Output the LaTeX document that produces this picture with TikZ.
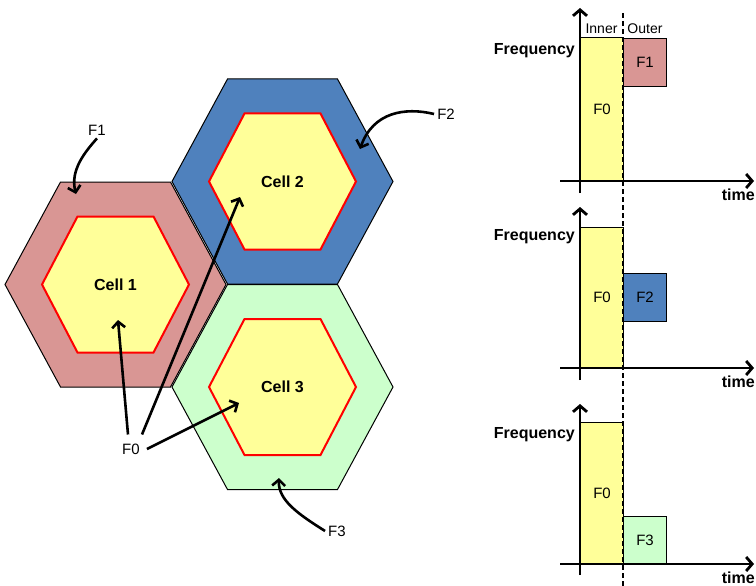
\documentclass[tikz,border=0pt]{standalone}
\usepackage{fontspec}
\setmainfont{Liberation Sans}
\usetikzlibrary{arrows.meta}

\definecolor{cellpink}{RGB}{217,150,148}
\definecolor{cellblue}{RGB}{79,129,189}
\definecolor{cellgreen}{RGB}{204,255,204}
\definecolor{cellyellow}{RGB}{255,255,153}

\tikzset{
  outerhex/.style={draw=black, line width=1pt, line join=miter},
  innerhex/.style={draw=red, line width=2pt, fill=cellyellow, line join=miter},
  celllabel/.style={font=\fontsize{16}{18}\selectfont\bfseries},
  flabel/.style={font=\fontsize{15}{17}\selectfont, inner sep=3pt},
  pointer/.style={line width=2.6pt, -{Straight Barb[length=6pt,width=13pt]}},
  axisline/.style={line width=2.8pt},
  axisarrow/.style={line width=2.8pt, -{Straight Barb[length=6pt,width=14pt]}},
  bar/.style={draw=black, line width=1pt, minimum width=43pt, inner sep=0pt,
    font=\fontsize{15}{17}\selectfont},
  axislabel/.style={font=\fontsize{16}{18}\selectfont\bfseries, inner sep=1pt},
  zonelabel/.style={font=\fontsize{14}{16}\selectfont, inner sep=1pt},
  divider/.style={line width=1.5pt, dash pattern=on 5pt off 3pt},
  % one cell: outer reuse ring and the inner full-reuse zone
  pics/cellhex/.style n args={2}{code={
    \path[outerhex, fill=#1] (-110.5,0) -- (-55,-102.5) -- (55,-102.5) -- (110.5,0)
      -- (55,102.5) -- (-55,102.5) -- cycle;
    \path[innerhex] (-73.5,0) -- (-38,-68) -- (38,-68) -- (73.5,0)
      -- (38,68) -- (-38,68) -- cycle;
    \node[celllabel] (-lbl) at (0,0) {#2};
  }}
}

\begin{document}
\begin{tikzpicture}[x=1pt,y=-1pt]
\useasboundingbox (0,0) rectangle (756,586);

% ---------- hexagonal cells ----------
\pic (cA) at (115.5,284.5) {cellhex={cellpink}{Cell 1}};
\pic (cB) at (282.5,181.5) {cellhex={cellblue}{Cell 2}};
\pic (cC) at (282.5,387)   {cellhex={cellgreen}{Cell 3}};

% ---------- frequency labels and pointers ----------
\node[flabel] (F1) at (97,130) {F1};
\node[flabel] (F2) at (446,114) {F2};
\node[flabel] (F0) at (131,449) {F0};
\node[flabel] (F3) at (337,531) {F3};

\coordinate (tipF1) at (76,194);
\coordinate (tipF2) at (360,149);
\coordinate (tipF3) at (279,478);
\coordinate (tipA) at (118,320);
\coordinate (tipB) at (240,197);
\coordinate (tipC) at (239,403);

\draw[pointer] (F1.south) .. controls (85,152) and (70,170) .. (tipF1);
\draw[pointer] (F2.west) .. controls (405,107) and (373,112) .. (tipF2);
\draw[pointer] (F3.west) .. controls (298,514) and (278,500) .. (tipF3);
\draw[pointer] ([shift={(-3,-6)}]F0.north) -- (tipA);
\draw[pointer] ([shift={(11,-6)}]F0.north) -- (tipB);
\draw[pointer] ([shift={(4,0)}]F0.east) -- (tipC);

% ---------- time/frequency charts ----------
% chart 1
\node[bar, fill=cellyellow, minimum height=143pt, anchor=south west] (b1) at (580,181) {F0};
\node[bar, fill=cellpink, minimum height=48pt, anchor=north west] (o1) at (623,38) {F1};
% chart 2
\node[bar, fill=cellyellow, minimum height=140pt, anchor=south west] (b2) at (580,368) {F0};
\node[bar, fill=cellblue, minimum height=48pt, anchor=north west] (o2) at (623,273) {F2};
% chart 3
\node[bar, fill=cellyellow, minimum height=141pt, anchor=south west] (b3) at (580,564) {F0};
\node[bar, fill=cellgreen, minimum height=47pt, anchor=south west] (o3) at (623,564) {F3};

% inner/outer divider
\coordinate (dtop) at (623,13);
\coordinate (dbot) at (623,586);
\draw[divider] (dtop) -- (dbot);

% axes
\coordinate (yb1) at (580,193); \coordinate (yt1) at (580,8);
\coordinate (xl1) at (560,181); \coordinate (xr1) at (754,181);
\coordinate (yb2) at (580,380); \coordinate (yt2) at (580,207);
\coordinate (xl2) at (560,368); \coordinate (xr2) at (754,368);
\coordinate (yb3) at (580,575); \coordinate (yt3) at (580,404);
\coordinate (xl3) at (560,564); \coordinate (xr3) at (754,564);
\foreach \i in {1,2,3} {
  \draw[axisarrow] (yb\i) -- (yt\i);
  \draw[axisarrow] (xl\i) -- (xr\i);
}

% axis labels
\node[axislabel, anchor=east] (fq1) at (576,51) {Frequency};
\node[axislabel, anchor=east] (fq2) at (576,237) {Frequency};
\node[axislabel, anchor=east] (fq3) at (576,435) {Frequency};
\node[axislabel, anchor=east] (tm1) at (756,195) {time};
\node[axislabel, anchor=east] (tm2) at (756,382) {time};
\node[axislabel, anchor=east] (tm3) at (756,578) {time};
\node[zonelabel] (inner) at (601.5,29) {Inner};
\node[zonelabel] (outer) at (645,29) {Outer};
\end{tikzpicture}
\end{document}
